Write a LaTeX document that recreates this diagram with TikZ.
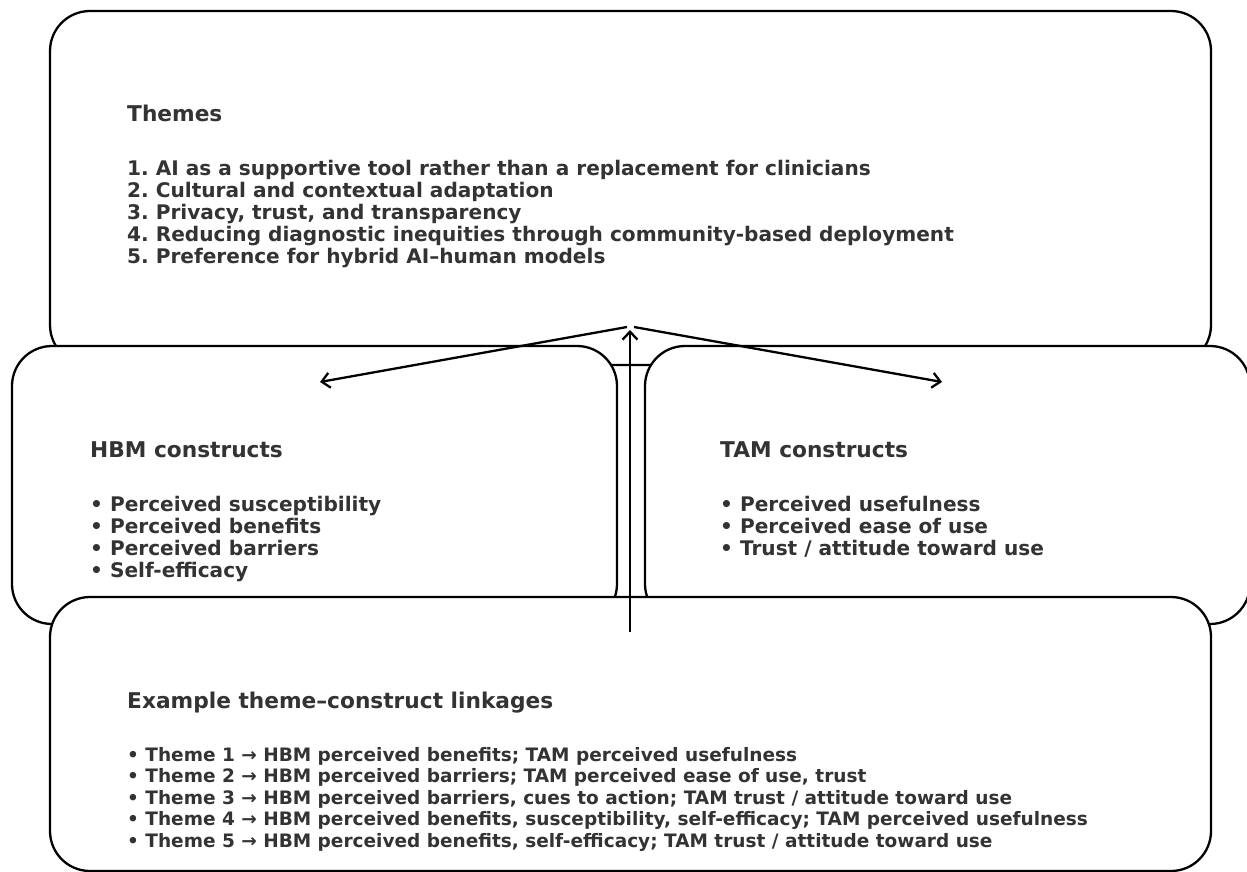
\documentclass[tikz,border=0pt]{standalone}
\usepackage{fontspec}
\setmainfont{DejaVu Sans}
\usepackage{tikz}
\usetikzlibrary{arrows.meta,positioning}
\definecolor{inkgray}{RGB}{51,51,51}

\begin{document}
\begin{tikzpicture}[
  x=1pt, y=-1pt,
  panel/.style={draw, line width=2.3pt, rounded corners=40pt, fill=white, inner sep=0pt},
  head/.style={anchor=base west, inner sep=0pt, text=inkgray, font=\fontsize{21.7}{26}\selectfont\bfseries},
  items/.style={anchor=base west, inner sep=0pt, align=left, text=inkgray, font=\fontsize{20.1}{22}\selectfont\bfseries\frenchspacing},
  smallitems/.style={items, font=\fontsize{18.5}{21.5}\selectfont\bfseries\frenchspacing},
  arr/.style={-{Straight Barb[length=8pt,width=15pt]}, line width=2.3pt}
]
\useasboundingbox (0,0) rectangle (1247,872);

\node[panel, minimum width=1161pt, minimum height=354pt] (themes) at (630.5,188) {};
\node[panel, minimum width=605pt, minimum height=278pt] (hbm) at (314.5,485) {};
\node[panel, minimum width=605pt, minimum height=278pt] (tam) at (947.5,485) {};
\node[panel, minimum width=1161pt, minimum height=274pt] (links) at (630.5,734) {};

% text anchored at the baseline of its last line
\node[head] (themesHead) at (127,122) {Themes};
\node[items] (themesList) at (127,263) {1. AI as a supportive tool rather than a replacement for clinicians\\
2. Cultural and contextual adaptation\\
3. Privacy, trust, and transparency\\
4. Reducing diagnostic inequities through community-based deployment\\
5. Preference for hybrid AI–human models};

\node[head] (hbmHead) at (90,457) {HBM constructs};
\node[items] (hbmList) at (90,577) {• Perceived susceptibility\\
• Perceived benefits\\
• Perceived barriers\\
• Self-efficacy};

\node[head] (tamHead) at (720,457) {TAM constructs};
\node[items] (tamList) at (720,555) {• Perceived usefulness\\
• Perceived ease of use\\
• Trust / attitude toward use};

\node[head] (linksHead) at (127,708) {Example theme–construct linkages};
\node[smallitems] (linksList) at (127,847) {• Theme 1 → HBM perceived benefits; TAM perceived usefulness\\
• Theme 2 → HBM perceived barriers; TAM perceived ease of use, trust\\
• Theme 3 → HBM perceived barriers, cues to action; TAM trust / attitude toward use\\
• Theme 4 → HBM perceived benefits, susceptibility, self-efficacy; TAM perceived usefulness\\
• Theme 5 → HBM perceived benefits, self-efficacy; TAM trust / attitude toward use};

% hub of the arrows
\coordinate (hubL) at (627,327);
\coordinate (hubR) at (634,327);
\coordinate (hubTip) at (630,330);
\coordinate (hbmTip) at (320,382);
\coordinate (tamTip) at (942,382);
\coordinate (linkFoot) at (630,632);

\draw[arr] (hubL) -- (hbmTip);
\draw[arr] (hubR) -- (tamTip);
\draw[arr] (linkFoot) -- (hubTip);
\end{tikzpicture}
\end{document}
